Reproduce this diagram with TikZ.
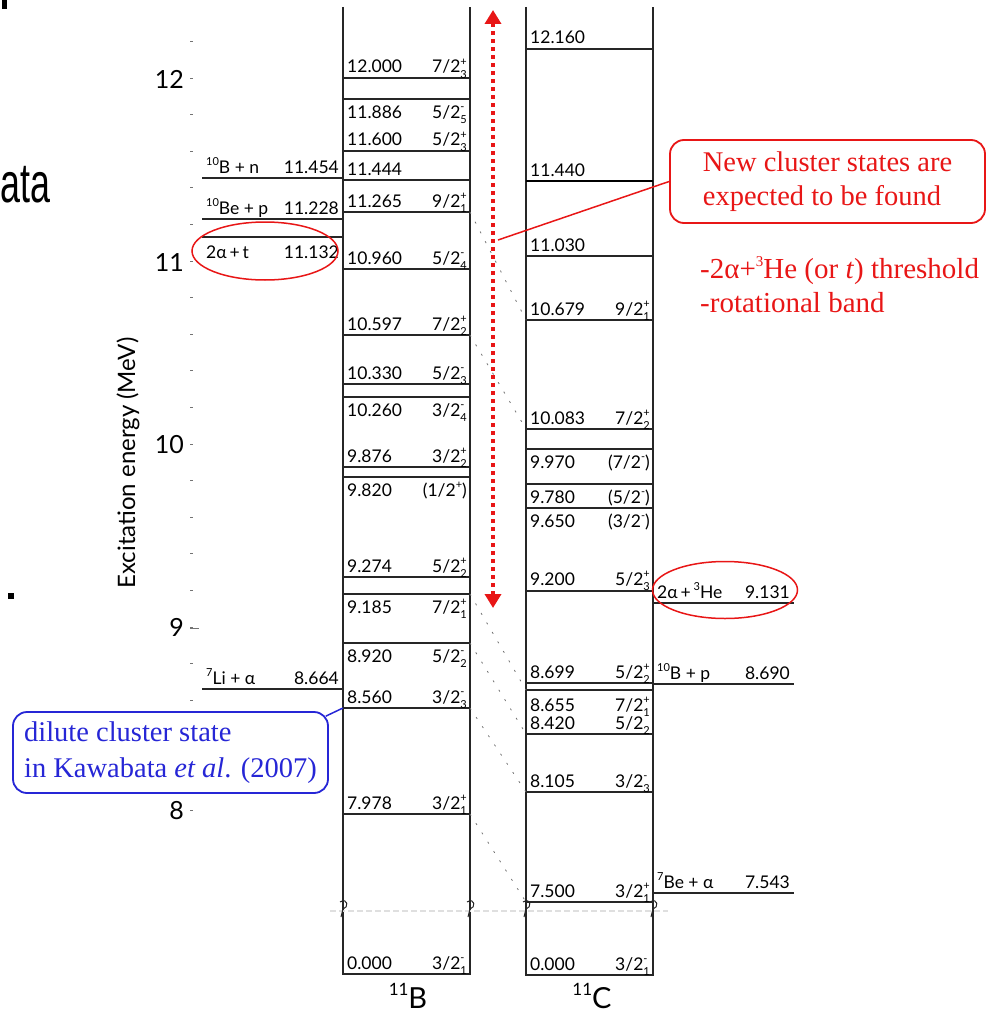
\documentclass[tikz,border=0pt]{standalone}
\usepackage{fontspec}
\setmainfont{Lato}
\newfontfamily\serifrm{Liberation Serif}
\newfontfamily\arialrm{Liberation Sans}
\usetikzlibrary{arrows.meta,shapes.geometric}
\definecolor{cred}{RGB}{232,22,22}
\definecolor{cblue}{RGB}{38,38,214}
\newcommand\sups[1]{\raisebox{0.45em}{\fontsize{11}{11}\selectfont #1}}
\newcommand\spinlab[3]{#1\makebox[0pt][l]{\raisebox{0.45em}{\fontsize{11}{11}\selectfont #2}}\raisebox{-0.3em}{\fontsize{11}{11}\selectfont #3}}
% level in 11B column: name, y, number, spin, baseline offset
\newcommand\levB[5]{%
  \coordinate (#1l) at (343,#2);
  \coordinate (#1r) at (470,#2);
  \draw[lvl] (#1l) -- (#1r);
  \node[num] (#1n) at (347,#2#5) {#3};
  \node[spn] (#1s) at (467,#2#5) {#4};
}
% level in 11C column
\newcommand\levC[5]{%
  \coordinate (#1l) at (526,#2);
  \coordinate (#1r) at (653,#2);
  \draw[lvl] (#1l) -- (#1r);
  \node[num] (#1n) at (530,#2#5) {#3};
  \node[spn] (#1s) at (650,#2#5) {#4};
}
% threshold: name, y, x1, x2, label, value, offset
\newcommand\thr[7]{%
  \coordinate (#1a) at (#3,#2);
  \coordinate (#1b) at (#4,#2);
  \draw[lvl] (#1a) -- (#1b);
  \node[num] (#1n) at (#3+4,#2#7) {#5};
  \node[spn] (#1v) at (#4-4,#2#7) {#6};
}
\begin{document}
\begin{tikzpicture}[x=1pt,y=-1pt,
  lvl/.style={line width=1.3pt, draw=black!85},
  colline/.style={line width=1.5pt, draw=black!85},
  num/.style={anchor=base west, inner sep=0pt, font=\fontsize{17.5}{17.5}\selectfont},
  spn/.style={anchor=base east, inner sep=0pt, font=\fontsize{17.5}{17.5}\selectfont},
  conn/.style={draw=black!55, line width=0.8pt, dash pattern=on 2pt off 9pt},
  axtick/.style={draw=black!55, line width=0.9pt},
  ticklab/.style={anchor=east, inner sep=0pt, font=\fontsize{25}{25}\selectfont},
  brkmark/.style={line width=1pt, draw=black!85},
  redtxt/.style={anchor=base west, inner sep=0pt, text=cred, font=\serifrm\fontsize{29}{29}\selectfont}
]
\useasboundingbox (0,0) rectangle (996,1014);

% slide remnants
\fill (2,0) rectangle (7,9);
\fill (8,593) rectangle (14,599);
\node[anchor=base west, inner sep=0pt, font=\arialrm\fontsize{56}{56}\selectfont] (ata) at (0,202) {\scalebox{0.64}[1]{ata}};

% axis
\foreach \i in {0,...,21} \draw[axtick] (190,{41.4+36.6*\i}) -- (193,{41.4+36.6*\i});
\draw[axtick] (190,628) -- (199,628);
\node[ticklab] (t12) at (184,79) {12};
\node[ticklab] (t11) at (184,263) {11};
\node[ticklab] (t10) at (184,445) {10};
\node[ticklab] (t9) at (184,627) {9};
\node[ticklab] (t8) at (184,811) {8};
\node[rotate=90, inner sep=0pt, font=\fontsize{24}{24}\selectfont] (ylab) at (128,463) {Excitation energy (MeV)};

% columns
\coordinate (Bt1) at (343,7); \coordinate (Bt2) at (470,7);
\coordinate (Bb1) at (343,974); \coordinate (Bb2) at (470,974);
\coordinate (Ct1) at (526,7); \coordinate (Ct2) at (653,7);
\coordinate (Cb1) at (526,975); \coordinate (Cb2) at (653,975);
\draw[colline] (Bt1) -- (Bb1) -- (Bb2) -- (Bt2);
\draw[colline] (Ct1) -- (Cb1) -- (Cb2) -- (Ct2);

% break
\draw[gray!25, line width=1.5pt, dash pattern=on 6pt off 3pt] (330,911) -- (668,911);
\foreach \bx in {343,470,526,653}
  \draw[brkmark] (\bx-3,902) .. controls (\bx+5,897) and (\bx+6,908) .. (\bx,909) -- (\bx-2,917);

% 11B levels
\levB{B1}{78}{12.000}{\spinlab{7/2}{+}{3}}{-5}
\levB{B2}{99}{11.886}{\spinlab{5/2}{-}{5}}{+19}
\levB{B3}{151}{11.600}{\spinlab{5/2}{+}{3}}{-5}
\levB{B4}{180}{11.444}{}{-5}
\levB{B5}{212}{11.265}{\spinlab{9/2}{+}{1}}{-5}
\levB{B6}{269}{10.960}{\spinlab{5/2}{-}{4}}{-5}
\levB{B7}{335}{10.597}{\spinlab{7/2}{+}{2}}{-5}
\levB{B8}{384}{10.330}{\spinlab{5/2}{-}{3}}{-5}
\levB{B9}{397}{10.260}{\spinlab{3/2}{-}{4}}{+19}
\levB{B10}{467}{9.876}{\spinlab{3/2}{+}{2}}{-5}
\levB{B11}{477}{9.820}{(1/2\sups{+})}{+19}
\levB{B12}{577}{9.274}{\spinlab{5/2}{+}{2}}{-5}
\levB{B13}{594}{9.185}{\spinlab{7/2}{+}{1}}{+19}
\levB{B14}{643}{8.920}{\spinlab{5/2}{-}{2}}{+19}
\levB{B15}{708}{8.560}{\spinlab{3/2}{-}{3}}{-5}
\levB{B16}{814}{7.978}{\spinlab{3/2}{+}{1}}{-5}
\levB{B17}{974}{0.000}{\spinlab{3/2}{-}{1}}{-5}

% 11C levels
\levC{C1}{49}{12.160}{}{-5}
\levC{C2}{181}{11.440}{}{-5}
\draw[line width=2.4pt] (C2l) -- (C2r);
\levC{C3}{256}{11.030}{}{-5}
\levC{C4}{320}{10.679}{\spinlab{9/2}{+}{1}}{-5}
\levC{C5}{429}{10.083}{\spinlab{7/2}{+}{2}}{-5}
\levC{C6}{449}{9.970}{(7/2\sups{-})}{+19}
\levC{C7}{484}{9.780}{(5/2\sups{-})}{+19}
\levC{C8}{508}{9.650}{(3/2\sups{-})}{+19}
\levC{C9}{591}{9.200}{\spinlab{5/2}{+}{3}}{-6}
\levC{C10}{683}{8.699}{\spinlab{5/2}{+}{2}}{-5}
\levC{C11}{690}{8.655}{\spinlab{7/2}{+}{1}}{+21}
\levC{C12}{734}{8.420}{\spinlab{5/2}{}{2}}{-5}
\levC{C13}{792}{8.105}{\spinlab{3/2}{-}{3}}{-5}
\levC{C14}{902}{7.500}{\spinlab{3/2}{+}{1}}{-5}
\levC{C15}{975}{0.000}{\spinlab{3/2}{-}{1}}{-5}

% correspondence lines
\draw[conn] (B5r) -- (C4l);
\draw[conn] (B7r) -- (C5l);
\draw[conn] (B13r) -- (C11l);
\draw[conn] (B14r) -- (C12l);
\draw[conn] (B15r) -- (C13l);
\draw[conn] (B16r) -- (C14l);

% thresholds
\thr{T1}{178}{202}{343}{\sups{10}B + n}{11.454}{-5}
\thr{T2}{219}{202}{343}{\sups{10}Be + p}{11.228}{-5}
\thr{T3}{237}{202}{343}{2α\,+\,t}{11.132}{+21}
\thr{T4}{689}{202}{343}{\sups{7}Li + α}{8.664}{-5}
\thr{R1}{603}{653}{794}{2α\,+\,\sups{3}He}{9.131}{-5}
\thr{R2}{684}{653}{794}{\sups{10}B + p}{8.690}{-5}
\thr{R3}{893}{653}{794}{\sups{7}Be + α}{7.543}{-5}

% column labels
\node[anchor=base, inner sep=0pt] (labB) at (408,1008) {\raisebox{13pt}{\fontsize{17}{17}\selectfont 11}\fontsize{29}{29}\selectfont B};
\node[anchor=base, inner sep=0pt] (labC) at (592,1008) {\raisebox{13pt}{\fontsize{17}{17}\selectfont 11}\fontsize{29}{29}\selectfont C};

% red highlights
\node[draw=cred, line width=1.5pt, ellipse, minimum width=146pt, minimum height=58pt, inner sep=0pt] (ellB) at (265,251) {};
\node[draw=cred, line width=1.5pt, ellipse, minimum width=145pt, minimum height=57pt, inner sep=0pt] (ellC) at (725,590) {};

% red dotted double arrow
\coordinate (arrtop) at (493,10);
\coordinate (arrbot) at (493,608);
\draw[cred, line width=4pt, dash pattern=on 4pt off 4pt,
  {Triangle[width=16pt,length=14pt]}-{Triangle[width=16pt,length=14pt]}] (arrtop) -- (arrbot);
\coordinate (redfoot) at (498,240);

% red callout
\node[draw=cred, line width=1.8pt, rounded corners=14pt, fill=white, minimum width=315pt, minimum height=83pt,
  align=left, text=cred, inner xsep=0pt, font=\serifrm\fontsize{28.5}{34}\selectfont] (newbox) at (827.5,181.5)
  {New cluster states are\\expected to be found};
\draw[cred, line width=1.5pt] (redfoot) -- (newbox.west);
\node[redtxt] (rt1) at (700,278) {-2α+\raisebox{0.4em}{\fontsize{15}{15}\selectfont 3}He (or \textit{t}) threshold};
\node[redtxt] (rt2) at (700,312) {-rotational band};

% blue callout
\node[draw=cblue, line width=1.8pt, rounded corners=14pt, fill=white, minimum width=315pt, minimum height=81pt,
  align=left, text=cblue, inner xsep=0pt, font=\serifrm\fontsize{28.5}{36}\selectfont] (bluebox) at (170.5,752.5)
  {dilute cluster state\\in Kawabata \textit{et al}. (2007)};
\draw[cblue, line width=1.5pt] ([xshift=-3pt,yshift=-5pt]bluebox.north east) -- (B15l);
\end{tikzpicture}
\end{document}
